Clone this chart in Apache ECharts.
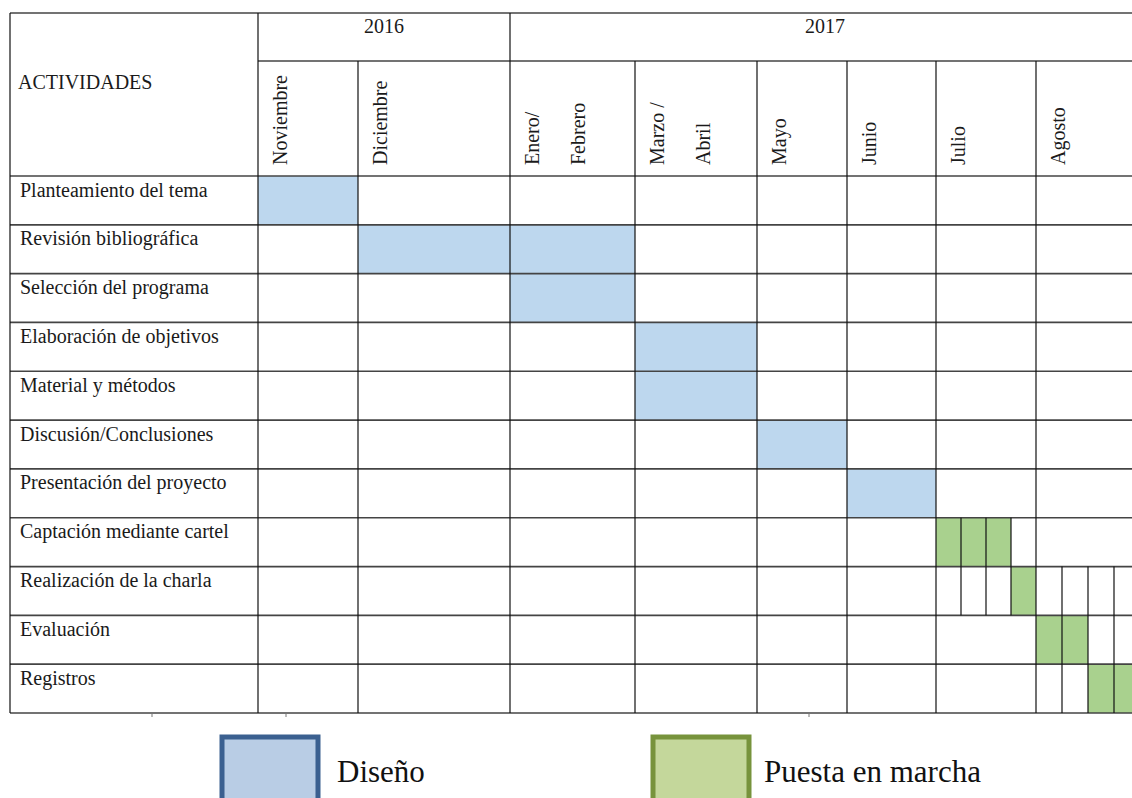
<!DOCTYPE html>
<html><head><meta charset="utf-8">
<script src="https://cdn.jsdelivr.net/npm/echarts@6/dist/echarts.min.js"></script>
<style>html,body{margin:0;padding:0;background:#fff}#main{width:1132px;height:798px}</style>
</head><body><div id="main"></div>
<script>
// ---------- data ----------
const headerTitle = 'ACTIVIDADES';
const years = ['2016', '2017'];
const yearSpans = [2, 6];                       // number of period columns per year
const periodLabels = [['Noviembre'], ['Diciembre'], ['Enero/', 'Febrero'], ['Marzo /', 'Abril'],
                      ['Mayo'], ['Junio'], ['Julio'], ['Agosto']];
const activities = ['Planteamiento del tema', 'Revisión bibliográfica', 'Selección del programa',
  'Elaboración de objetivos', 'Material y métodos', 'Discusión/Conclusiones',
  'Presentación del proyecto', 'Captación mediante cartel', 'Realización de la charla',
  'Evaluación', 'Registros'];
const legendNames = ['Diseño', 'Puesta en marcha'];
// [activity, firstPeriod, lastPeriod]
const designTasks = [[0,0,0],[1,1,2],[2,2,2],[3,3,3],[4,3,3],[5,4,4],[6,5,5]];
// [activity, period, firstWeek, lastWeek]
const launchTasks = [[7,6,1,3],[8,6,4,4],[9,7,1,2],[10,7,3,4]];
// [activity, period] cells split into weeks
const weeklyCells = [[7,6],[8,6],[8,7],[9,7],[10,7]];
const weeksPerMonth = 4;

// ---------- layout (table units) ----------
const COL_EDGES = [0, 248, 348, 500, 625, 747, 837, 926, 1026, 1130];
const HEAD_Y = [0, 48, 163];
const TABLE_H = 700;
const ROW_H = (TABLE_H - HEAD_Y[2]) / activities.length;
const rowTop = i => HEAD_Y[2] + i * ROW_H;
const pStart = p => COL_EDGES[p + 1];
const pEnd = p => COL_EDGES[p + 2];
const weekW = p => (pEnd(p) - pStart(p)) / weeksPerMonth;
const FONT = '20px "Liberation Serif", "Times New Roman", serif';
const TXT = '#1a1a1a';
const H_LINE = { stroke: '#444', lineWidth: 1.7 };
const V_LINE = { stroke: '#111', lineWidth: 1.2 };

const chart = echarts.init(document.getElementById('main'), null, { renderer: 'svg' });

function rectShape(api, x0, y0, x1, y1) {
  const a = api.coord([x0, y0]), b = api.coord([x1, y1]);
  return { x: a[0], y: a[1], width: b[0] - a[0], height: b[1] - a[1] };
}
function line(api, x0, y0, x1, y1, st) {
  const a = api.coord([x0, y0]), b = api.coord([x1, y1]);
  return { type: 'line', shape: { x1: a[0], y1: a[1], x2: b[0], y2: b[1] }, style: st };
}

function renderFrame(params, api) {
  const ch = [];
  const W = COL_EDGES[COL_EDGES.length - 1];
  // horizontal lines
  ch.push(line(api, 0, 0, W, 0, H_LINE));
  ch.push(line(api, COL_EDGES[1], HEAD_Y[1], W, HEAD_Y[1], H_LINE));
  for (let i = 0; i <= activities.length; i++) ch.push(line(api, 0, rowTop(i), W, rowTop(i), H_LINE));
  // vertical lines
  const yearEdges = [1];
  let acc = 1;
  yearSpans.forEach(s => { acc += s; yearEdges.push(acc); });
  COL_EDGES.forEach((x, k) => {
    const full = k === 0 || yearEdges.indexOf(k) >= 0;
    ch.push(line(api, x, full ? 0 : HEAD_Y[1], x, TABLE_H, V_LINE));
  });
  // week subdivisions
  weeklyCells.forEach(([a, p]) => {
    for (let k = 1; k < weeksPerMonth; k++) {
      const x = pStart(p) + k * weekW(p);
      ch.push(line(api, x, rowTop(a), x, rowTop(a + 1), V_LINE));
    }
  });
  // tiny marks under table
  [142, 276, 799].forEach(x => ch.push(line(api, x, TABLE_H, x, TABLE_H + 4, { stroke: '#777', lineWidth: 1 })));
  // header texts
  let p = api.coord([8, 68.5]);
  ch.push({ type: 'text', style: { text: headerTitle, x: p[0], y: p[1], font: FONT, fill: TXT, align: 'left', verticalAlign: 'middle' } });
  let startCol = 1;
  years.forEach((y, i) => {
    const c0 = COL_EDGES[startCol], c1 = COL_EDGES[startCol + yearSpans[i]];
    const q = api.coord([(c0 + c1) / 2, 12.5]);
    ch.push({ type: 'text', style: { text: y, x: q[0], y: q[1], font: FONT, fill: TXT, align: 'center', verticalAlign: 'middle' } });
    startCol += yearSpans[i];
  });
  periodLabels.forEach((lines, i) => {
    lines.forEach((t, j) => {
      const q = api.coord([pStart(i) + 21.5 + j * 46, 152]);
      ch.push({ type: 'text', x: q[0], y: q[1], rotation: Math.PI / 2,
        style: { text: t, x: 0, y: 0, font: FONT, fill: TXT, align: 'left', verticalAlign: 'middle' } });
    });
  });
  // activity labels
  activities.forEach((t, i) => {
    const q = api.coord([10, rowTop(i) + 13.5]);
    ch.push({ type: 'text', style: { text: t, x: q[0], y: q[1], font: FONT, fill: TXT, align: 'left', verticalAlign: 'middle' } });
  });
  return { type: 'group', children: ch };
}

const legendBase = {
  top: 734.5, padding: 0, itemWidth: 96, itemHeight: 68, icon: 'rect', selectedMode: false,
  textStyle: { fontFamily: '"Liberation Serif", serif', fontSize: 31, color: '#111' }
};

chart.setOption({
  animation: false,
  backgroundColor: '#fff',
  grid: { left: 10, top: 13, width: 1122, height: 700, outerBoundsMode: 'none' },
  xAxis: { type: 'value', min: 0, max: 1122, show: false },
  yAxis: { type: 'value', min: 0, max: 700, inverse: true, show: false },
  legend: [
    Object.assign({}, legendBase, {
      left: 219.5, data: [legendNames[0]],
      itemStyle: { color: '#b9cde5', borderColor: '#3b6090', borderWidth: 5 },
      textStyle: Object.assign({}, legendBase.textStyle, { padding: [0, 0, 0, 14] })
    }),
    Object.assign({}, legendBase, {
      left: 650.5, data: [legendNames[1]],
      itemStyle: { color: '#c4d79b', borderColor: '#77933c', borderWidth: 5 },
      textStyle: Object.assign({}, legendBase.textStyle, { padding: [0, 0, 0, 10] })
    })
  ],
  series: [
    {
      name: legendNames[0], type: 'custom', z: 2, silent: true,
      itemStyle: { color: '#bdd7ee' },
      data: designTasks,
      renderItem: (params, api) => {
        const a = api.value(0), s = api.value(1), e = api.value(2);
        return { type: 'rect', shape: rectShape(api, pStart(s), rowTop(a), pEnd(e), rowTop(a + 1)),
                 style: { fill: '#bdd7ee' } };
      }
    },
    {
      name: legendNames[1], type: 'custom', z: 2, silent: true,
      itemStyle: { color: '#a9d18e' },
      data: launchTasks,
      renderItem: (params, api) => {
        const a = api.value(0), p = api.value(1), fw = api.value(2), lw = api.value(3);
        const x0 = pStart(p) + (fw - 1) * weekW(p), x1 = pStart(p) + lw * weekW(p);
        return { type: 'rect', shape: rectShape(api, x0, rowTop(a), x1, rowTop(a + 1)),
                 style: { fill: '#a9d18e' } };
      }
    },
    {
      name: 'frame', type: 'custom', z: 5, silent: true,
      data: [[0, 0]],
      renderItem: renderFrame
    }
  ]
});
</script></body></html>
